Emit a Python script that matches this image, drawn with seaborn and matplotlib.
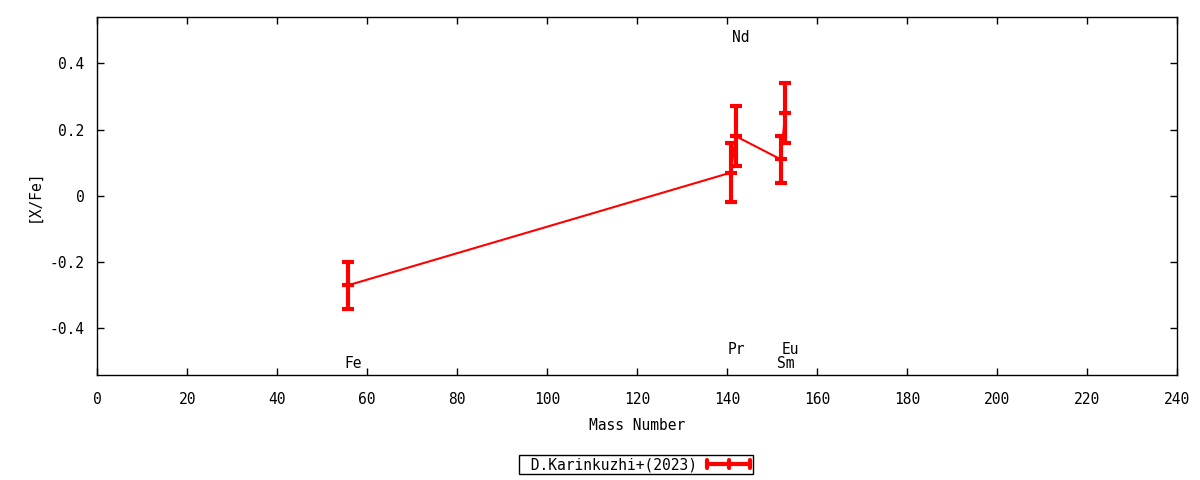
import matplotlib
matplotlib.use("Agg")
import matplotlib.pyplot as plt
import seaborn as sns
import pandas as pd
from matplotlib.lines import Line2D
from matplotlib.legend_handler import HandlerBase

# values
elements = ["Fe", "Pr", "Nd", "Sm", "Eu"]
mass = [55.7, 140.8, 141.9, 151.9, 152.9]
xfe = [-0.27, 0.07, 0.18, 0.11, 0.25]
err = [0.07, 0.09, 0.09, 0.07, 0.09]
label_y = [-0.505, -0.462, 0.477, -0.505, -0.462]
series_name = "D.Karinkuzhi+(2023)"

df = pd.DataFrame({"element": elements, "mass": mass, "xfe": xfe, "err": err})


class HandlerGnuErr(HandlerBase):
    # gnuplot-like legend key: thick line with caps at both ends and middle
    def create_artists(self, legend, orig, xd, yd, w, h, fontsize, trans):
        y = yd + h / 2
        c = 0.4 * h
        arts = [Line2D([xd, xd + w], [y, y], color="red", lw=3)]
        for xx in (xd, xd + w / 2, xd + w):
            arts.append(Line2D([xx, xx], [y - c, y + c], color="red", lw=3))
        for a in arts:
            a.set_transform(trans)
        return arts


sns.set_style("ticks")
plt.rcParams["font.family"] = ["DejaVu Sans Mono"]
plt.rcParams["font.size"] = 10
for k in ["text.color", "axes.labelcolor", "xtick.color", "ytick.color",
          "axes.edgecolor"]:
    plt.rcParams[k] = "black"

fig, ax = plt.subplots(figsize=(12, 4.8), dpi=100)
fig.subplots_adjust(left=0.081, right=0.981, top=0.965, bottom=0.219)

sns.lineplot(data=df, x="mass", y="xfe", color="red", lw=1.5, ax=ax,
             sort=False, legend=False)
ax.errorbar(df["mass"], df["xfe"], yerr=df["err"], fmt="_", color="red",
            ms=8, mew=3, ecolor="red", elinewidth=3, capsize=4, capthick=3)

for el, m, ly in zip(elements, mass, label_y):
    ax.text(m + 1.2, ly, el, ha="center", va="center", fontsize=10.5)

ax.set_xlim(0, 240)
ax.set_ylim(-0.54, 0.54)
ax.set_xticks(range(0, 241, 20))
ax.set_yticks([-0.4, -0.2, 0, 0.2, 0.4])
ax.set_yticklabels(["-0.4", "-0.2", "0", "0.2", "0.4"])
ax.tick_params(direction="in", top=True, right=True, length=5, width=1,
               labelsize=10.5)
ax.tick_params(axis="x", pad=12)
ax.tick_params(axis="y", pad=9)
ax.set_xlabel("Mass Number", labelpad=8, fontsize=10.5)
ax.set_ylabel("[X/Fe]", labelpad=6, fontsize=10.5)
for s in ax.spines.values():
    s.set_linewidth(1)
    s.set_color("black")

leg = fig.legend([Line2D([], [])], [series_name], loc="center",
                 bbox_to_anchor=(0.53, 0.032), markerfirst=False,
                 handler_map={Line2D: HandlerGnuErr()}, fancybox=False,
                 framealpha=1, edgecolor="black", handlelength=3.0,
                 borderpad=0.15, borderaxespad=0, handletextpad=0.7,
                 fontsize=10.5)
leg.get_frame().set_linewidth(1)
leg.texts[0].set_text(" " + series_name)

fig.savefig("out.png", dpi=100)
